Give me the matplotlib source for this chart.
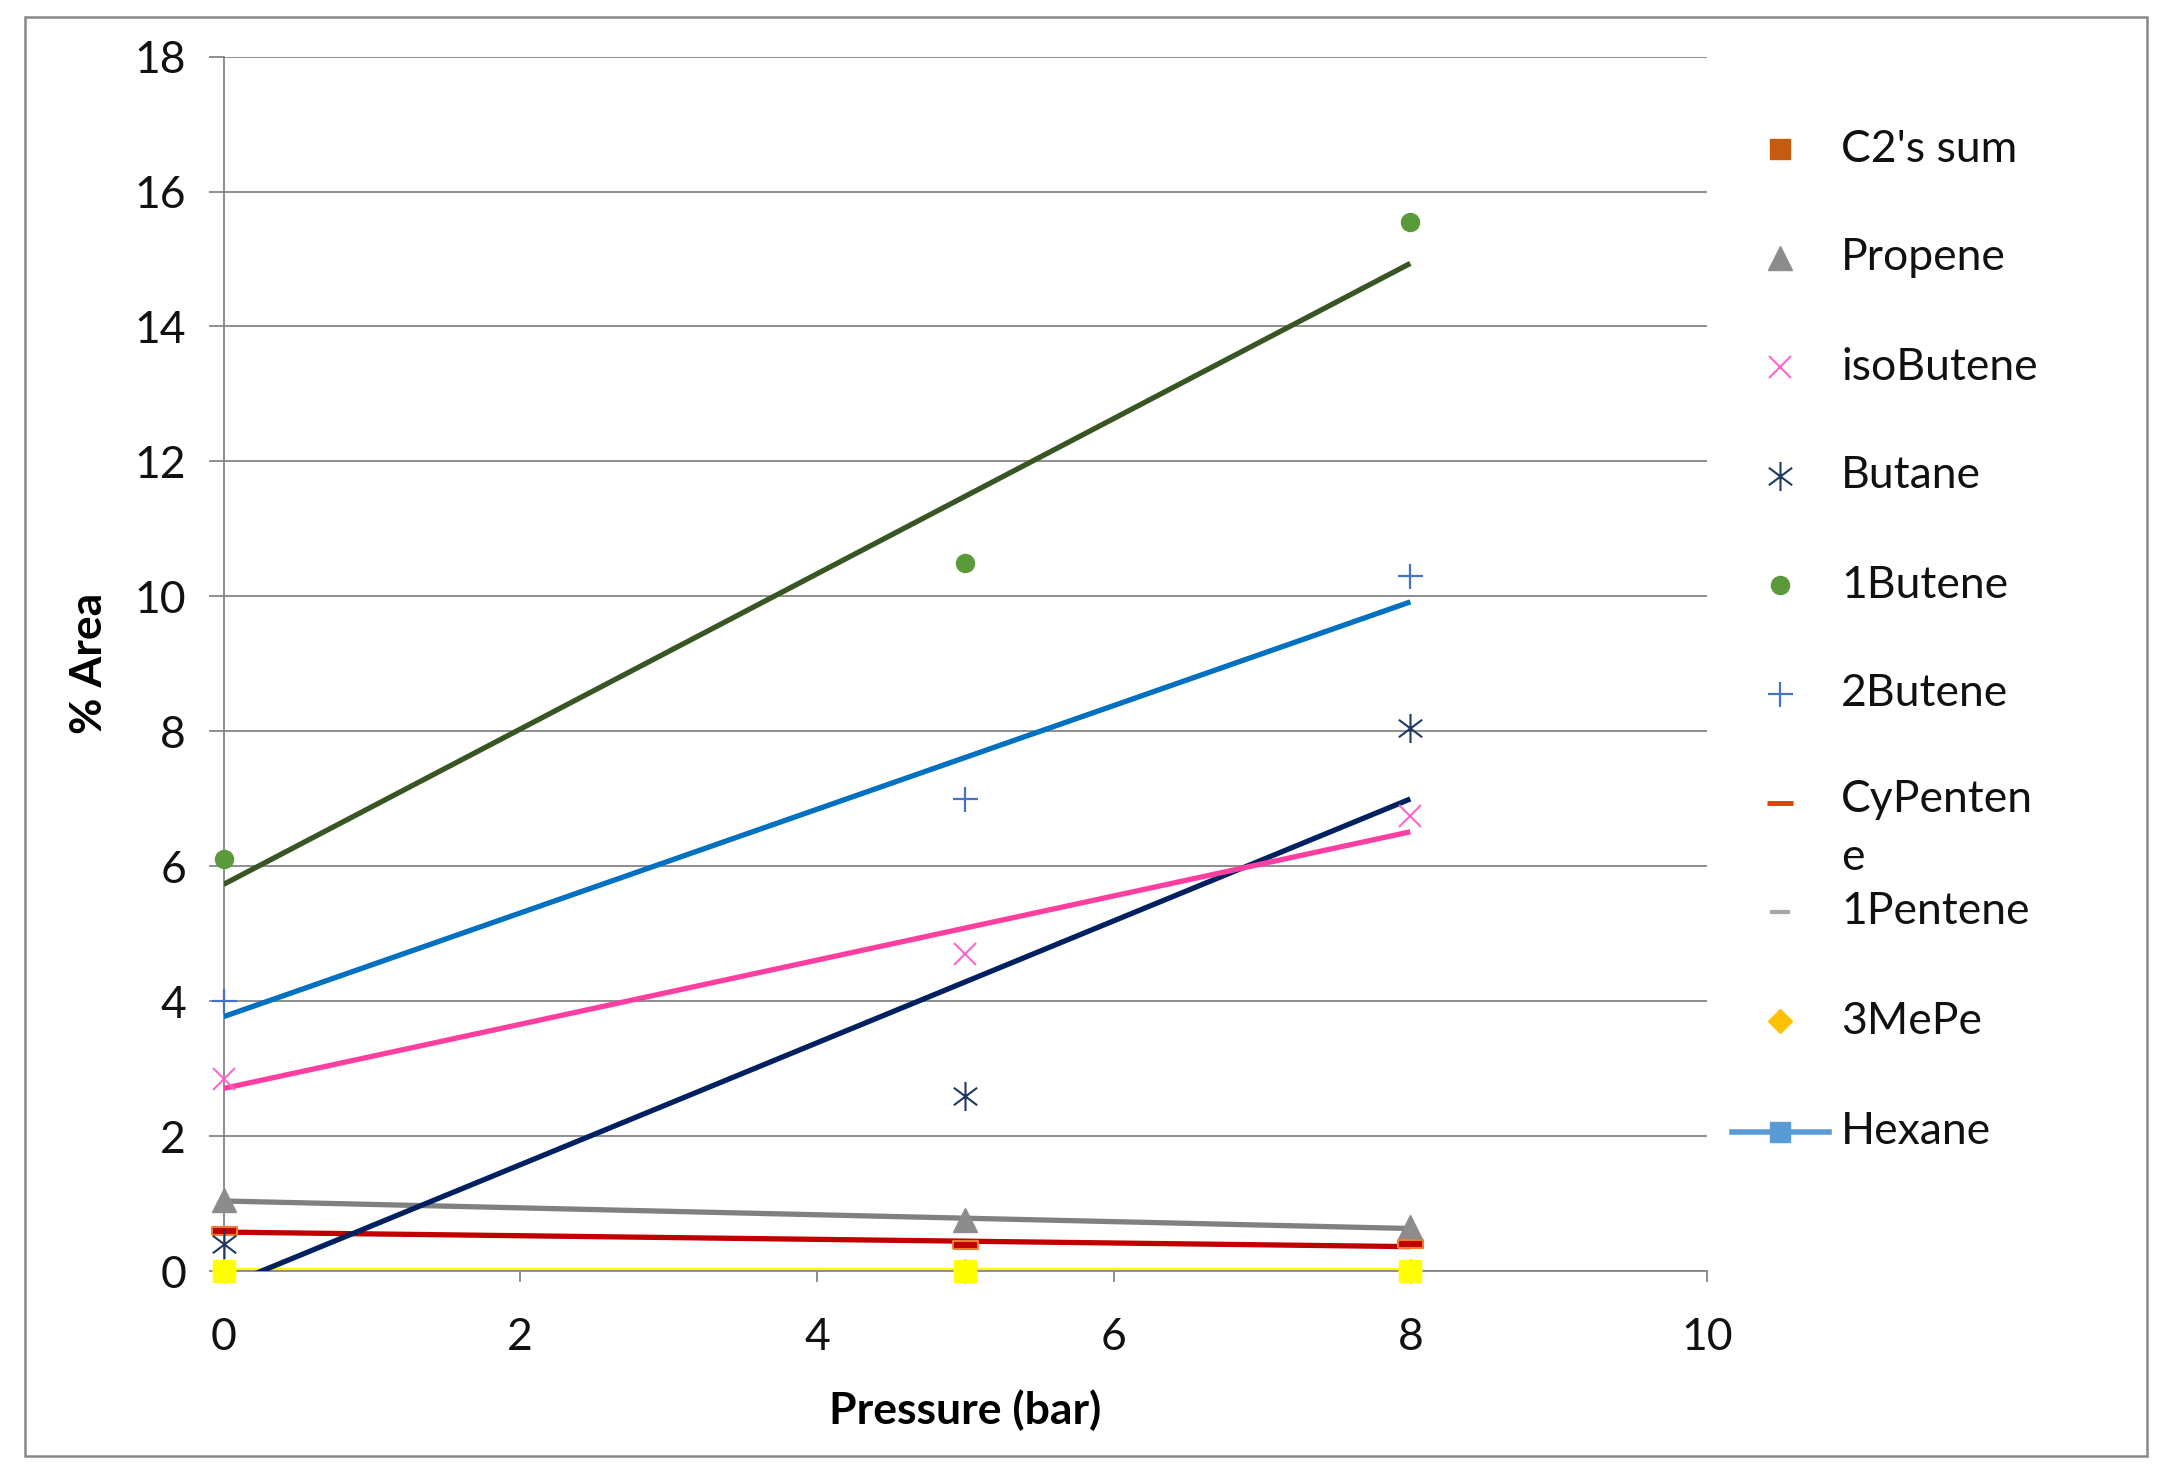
import numpy as np
import matplotlib.pyplot as plt
import matplotlib.transforms as mtransforms
from matplotlib.patches import Rectangle
from matplotlib.path import Path

plt.rcParams['font.family'] = ['Lato', 'DejaVu Sans']

# donnees
pression = [0, 5, 8]
c2_somme = [0.0, 0.0, 0.0]
propene = [1.05, 0.75, 0.65]
isobutene = [2.85, 4.7, 6.75]
butane = [0.4, 2.6, 8.05]
butene1 = [6.1, 10.5, 15.55]
butene2 = [4.0, 7.0, 10.3]
cypentene = [0.6, 0.38, 0.4]
pentene1 = [0.0, 0.0, 0.0]
mepe3 = [0.0, 0.0, 0.0]
hexane = [0.0, 0.0, 0.0]

noms = ["C2's sum", 'Propene', 'isoButene', 'Butane', '1Butene', '2Butene',
        'CyPenten\ne', '1Pentene', '3MePe', 'Hexane']
x_ticks = [0, 2, 4, 6, 8, 10]
y_ticks = [0, 2, 4, 6, 8, 10, 12, 14, 16, 18]

W, H = 2164, 1478
fig = plt.figure(figsize=(W / 100, H / 100), dpi=100)
ax = fig.add_axes([223.6 / W, 1 - 1271 / H, (1707 - 223.6) / W, (1271 - 56.6) / H])

gris = '#868686'
x = np.array(pression, dtype=float)


def tendance(y, couleur, lw=3.8, z=3, trans=None):
    a, b = np.polyfit(x, y, 1)
    xx = np.array([x.min(), x.max()])
    kw = {}
    if trans is not None:
        kw['transform'] = trans
    ax.plot(xx, a * xx + b, color=couleur, lw=lw, zorder=z, solid_capstyle='butt', **kw)


# courbes de tendance
haut = mtransforms.offset_copy(ax.transData, fig=fig, x=0, y=2.5, units='dots')
tendance(hexane, '#70AD47', lw=2.4, z=2)
tendance(mepe3, '#FFFF00', lw=2.4, z=2.1, trans=haut)
tendance(propene, '#808080')
tendance(cypentene, '#C00000')
tendance(butane, '#002060')
tendance(isobutene, '#FF3FA0')
tendance(butene2, '#0070C0')
tendance(butene1, '#375623')

# marqueurs
tiret = [(-1, -0.28), (1, -0.28), (1, 0.28), (-1, 0.28), (-1, -0.28)]
etoile = Path([(0, -1), (0, 1), (-0.8, -0.6), (0.8, 0.6), (-0.8, 0.6), (0.8, -0.6)],
              [Path.MOVETO, Path.LINETO, Path.MOVETO, Path.LINETO, Path.MOVETO, Path.LINETO])
ax.plot(pression, c2_somme, 's', color='#C55A11', ms=14, clip_on=False, zorder=4)
ax.plot(pression, mepe3, 'D', color='#FFC000', ms=12, clip_on=False, zorder=4)
ax.plot(pression, pentene1, '_', color='#A5A5A5', ms=14, mew=3, clip_on=False, zorder=4)
ax.plot(pression, hexane, 's', color='#FFFF00', ms=16, clip_on=False, zorder=5)
ax.plot(pression, propene, '^', color='#8C8C8C', ms=17, clip_on=False, zorder=5)
ax.plot(pression, cypentene, marker=tiret, ls='none', mfc='#C00000', mec='#ED7D31',
        mew=1.5, ms=18, clip_on=False, zorder=5)
ax.plot(pression, butane, marker=etoile, ls='none', color='#203864', ms=21, mew=1.5,
        clip_on=False, zorder=5)
ax.plot(pression, isobutene, 'x', color='#FF66CC', ms=16, mew=1.5, clip_on=False, zorder=5)
ax.plot(pression, butene2, '+', color='#4472C4', ms=18, mew=1.6, clip_on=False, zorder=5)
ax.plot(pression, butene1, 'o', color='#5B9A3A', ms=13, clip_on=False, zorder=5)

ax.set_xlim(0, 10)
ax.set_ylim(0, 18)
ax.set_xticks(x_ticks)
ax.set_yticks(y_ticks)
ax.grid(axis='y', color=gris, lw=1.3)
ax.set_axisbelow(True)
for s in ['top', 'right']:
    ax.spines[s].set_visible(False)
for s in ['left', 'bottom']:
    ax.spines[s].set_color(gris)
    ax.spines[s].set_linewidth(1.3)
ax.tick_params(axis='y', direction='out', length=11, width=1.3, color=gris,
               labelsize=32, pad=16, labelcolor='#111111')
ax.tick_params(axis='x', direction='out', length=8, width=1.3, color=gris,
               labelsize=32, pad=25, labelcolor='#111111')
ax.set_xlabel('Pressure (bar)', fontsize=32, fontweight='bold', labelpad=23)
ax.set_ylabel('% Area', fontsize=32, fontweight='bold', labelpad=18)

# legende faite a la main (positions en pixels)
leg = fig.add_axes([0, 0, 1, 1], facecolor='none')
leg.set_xlim(0, W)
leg.set_ylim(H, 0)
leg.axis('off')
ys = [149, 258, 367, 476, 585, 694, 803, 912, 1021, 1132]
xm, xt = 1780, 1841
styles = [
    dict(marker='s', color='#C55A11', ms=14),
    dict(marker='^', color='#8C8C8C', ms=17),
    dict(marker='x', color='#FF66CC', ms=16, mew=1.5),
    dict(marker=etoile, color='#203864', ms=21, mew=1.5),
    dict(marker='o', color='#5B9A3A', ms=13),
    dict(marker='+', color='#4472C4', ms=18, mew=1.6),
    dict(marker='_', color='#E04000', ms=19, mew=3.5),
    dict(marker='_', color='#A5A5A5', ms=15, mew=3),
    dict(marker='D', color='#FFC000', ms=12),
]
for yy, st in zip(ys[:9], styles):
    leg.plot([xm], [yy], ls='none', **st)
leg.plot([1732, 1829], [ys[9], ys[9]], color='#5B9BD5', lw=4)
leg.plot([xm], [ys[9]], 's', color='#5B9BD5', ms=14)
for i, (yy, nom) in enumerate(zip(ys, noms)):
    if '\n' in nom:
        leg.text(xt, yy - 24, nom, fontsize=32, va='top', ha='left', linespacing=1.5, color='#111111')
    else:
        leg.text(xt, yy, nom, fontsize=32, va='center', ha='left', color='#111111')

# cadre autour du graphique
fig.patches.append(Rectangle((25 / W, 1 - 1456 / H), (2147 - 25) / W, (1456 - 16.6) / H,
                             transform=fig.transFigure, fill=False, ec='#888888', lw=1.8))

fig.savefig('out.png', dpi=100)
